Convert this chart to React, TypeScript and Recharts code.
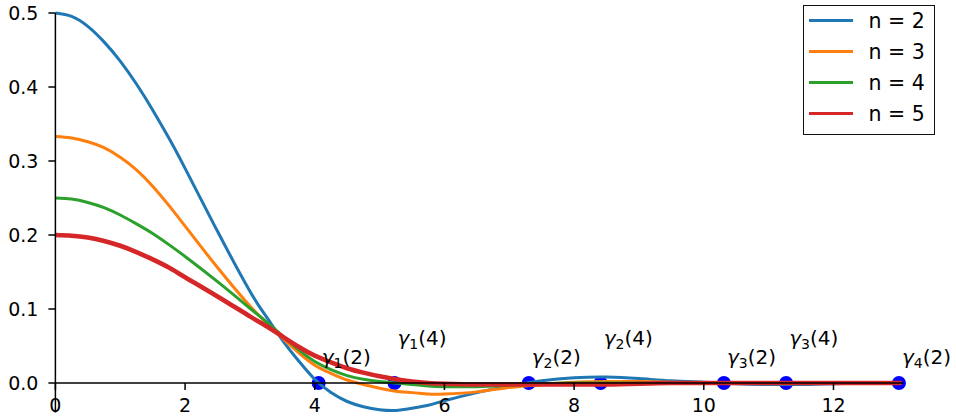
import { ComposedChart, Line, Scatter, XAxis, YAxis, ReferenceLine, Legend } from 'recharts';

// sample positions along x, shared by all four curves
const xGrid = [
  0, 0.25, 0.5, 0.75, 1, 1.25, 1.5, 1.75, 2, 2.5, 3, 3.25, 3.5, 3.75, 4, 4.25, 4.5, 4.75, 5,
  5.25, 5.5, 5.75, 6, 6.5, 7, 7.5, 8, 8.5, 9, 9.5, 10, 10.5, 11, 11.5, 12, 12.5, 13.05,
];

// values
const curveN2 = [
  0.5, 0.4955, 0.482, 0.461, 0.435, 0.404, 0.369, 0.331, 0.29, 0.205, 0.124, 0.09, 0.058, 0.03,
  0.005, -0.013, -0.025, -0.032, -0.036, -0.037, -0.034, -0.03, -0.024, -0.013, -0.004, 0.003,
  0.007, 0.008, 0.006, 0.003, 0.001, -0.001, -0.002, -0.002, -0.001, 0, 0,
];
const curveN3 = [
  0.333, 0.331, 0.326, 0.318, 0.305, 0.288, 0.266, 0.24, 0.212, 0.156, 0.104, 0.082, 0.061, 0.041,
  0.024, 0.013, 0.004, -0.002, -0.007, -0.011, -0.013, -0.015, -0.015, -0.012, -0.006, -0.002,
  0.001, 0.002, 0.002, 0.001, 0, 0, 0, 0, 0, 0, 0,
];
const curveN4 = [
  0.25, 0.2485, 0.244, 0.237, 0.227, 0.215, 0.202, 0.187, 0.171, 0.137, 0.101, 0.083, 0.064, 0.045,
  0.029, 0.018, 0.01, 0.005, 0.002, 0, -0.002, -0.004, -0.005, -0.005, -0.003, -0.001, 0, 0, 0, 0,
  0, 0, 0, 0, 0, 0, 0,
];
const curveN5 = [
  0.2, 0.199, 0.1965, 0.192, 0.1855, 0.177, 0.167, 0.156, 0.143, 0.117, 0.09, 0.077, 0.063, 0.049,
  0.037, 0.028, 0.02, 0.014, 0.009, 0.005, 0.002, 0, -0.001, -0.002, -0.002, -0.002, -0.002, -0.002,
  -0.001, 0, 0, 0, 0, 0, 0, 0, 0,
];

// marked zeros gamma_k(2) and gamma_k(4)
const rootsN2 = [4.06, 7.3, 10.31, 13.01];
const rootsN4 = [5.23, 8.41, 11.27];

const xTicks = [0, 2, 4, 6, 8, 10, 12];
const yTicks = [0, 0.1, 0.2, 0.3, 0.4, 0.5];

const series = [
  { key: 'n2', name: 'n = 2', color: '#1f77b4', width: 3 },
  { key: 'n3', name: 'n = 3', color: '#ff7f0e', width: 3 },
  { key: 'n4', name: 'n = 4', color: '#2ca02c', width: 3 },
  { key: 'n5', name: 'n = 5', color: '#d62728', width: 4.6 },
];

const W = 956;
const H = 420;
const TOP = 13;
const RIGHT = 52.5;
const Y_AXIS_W = 55.4;
const X_AXIS_H = 7.4;
const X_MAX = 13.08;
const Y_MIN = -0.04;
const Y_MAX = 0.5;
const plotH = H - TOP - X_AXIS_H;
// distance from the plot bottom up to y = 0, where the x axis sits
const zeroLift = (plotH * (0 - Y_MIN)) / (Y_MAX - Y_MIN);

const FONT = 'DejaVu Sans';

const tableData = xGrid.map((x, i) => ({
  x,
  n2: curveN2[i],
  n3: curveN3[i],
  n4: curveN4[i],
  n5: curveN5[i],
}));

const dotData = [...rootsN2, ...rootsN4].map((x) => ({ x, y: 0 }));
const labelData2 = rootsN2.map((x, i) => ({ x, y: 0.026, k: i + 1, n: 2 }));
const labelData4 = rootsN4.map((x, i) => ({ x, y: 0.052, k: i + 1, n: 4 }));

const XTick = (props: any) => {
  const { x, y, payload } = props;
  const y0 = y - zeroLift;
  return (
    <g>
      <line x1={x} x2={x} y1={y0} y2={y0 + 7} stroke="#000" strokeWidth={1.5} />
      <text x={x} y={y0 + 29} textAnchor="middle" fontSize={19} fill="#000" fontFamily={FONT}>
        {payload.value}
      </text>
    </g>
  );
};

const RootDot = (props: any) => <circle cx={props.cx} cy={props.cy} r={7} fill="#0000ff" />;

const RootLabel = (props: any) => {
  const { cx, cy, payload } = props;
  return (
    <text x={cx + 3} y={cy} fontSize={20} fill="#000" fontFamily={FONT}>
      <tspan fontStyle="italic">γ</tspan>
      <tspan fontSize={14} dy={4}>
        {payload.k}
      </tspan>
      <tspan dy={-4}>({payload.n})</tspan>
    </text>
  );
};

const LegendBox = () => (
  <div
    style={{
      width: 132,
      height: 130,
      boxSizing: 'border-box',
      border: '1.5px solid #111',
      background: '#fff',
      position: 'relative',
      fontFamily: FONT,
    }}
  >
    {series.map((s, i) => (
      <div
        key={s.key}
        style={{
          position: 'absolute',
          left: 4.5,
          top: 14.5 + 31 * i - 12,
          height: 24,
          display: 'flex',
          alignItems: 'center',
        }}
      >
        <div style={{ width: 44, height: 3, background: s.color }} />
        <span style={{ marginLeft: 16, fontSize: 20.5, color: '#000', whiteSpace: 'nowrap' }}>
          {s.name}
        </span>
      </div>
    ))}
  </div>
);

export default function App() {
  return (
    <div style={{ width: W, height: H, position: 'absolute', left: 0, top: 0 }}>
      <ComposedChart
        width={W}
        height={H}
        data={tableData}
        margin={{ top: TOP, right: RIGHT, bottom: 0, left: 0 }}
        style={{ fontFamily: FONT }}
      >
        <XAxis
          type="number"
          dataKey="x"
          domain={[0, X_MAX]}
          ticks={xTicks}
          height={X_AXIS_H}
          axisLine={false}
          tickLine={false}
          tickSize={0}
          tickMargin={0}
          tick={<XTick />}
          interval={0}
        />
        <YAxis
          type="number"
          domain={[Y_MIN, Y_MAX]}
          ticks={yTicks}
          width={Y_AXIS_W}
          axisLine={{ stroke: '#000', strokeWidth: 1.5 }}
          tickLine={{ stroke: '#000', strokeWidth: 1.5 }}
          tickSize={7}
          tickMargin={10}
          tick={{ fill: '#000', fontSize: 19, fontFamily: FONT }}
          tickFormatter={(v: number) => v.toFixed(1)}
          interval={0}
        />
        <Legend
          layout="vertical"
          align="center"
          verticalAlign="middle"
          content={<LegendBox />}
          wrapperStyle={{ left: 803, top: 5, width: 132, height: 130 }}
        />
        <Scatter
          data={dotData}
          dataKey="y"
          shape={<RootDot />}
          legendType="none"
          isAnimationActive={false}
          zIndex={100}
        />
        {series.map((s) => (
          <Line
            key={s.key}
            type="natural"
            dataKey={s.key}
            name={s.name}
            stroke={s.color}
            strokeWidth={s.width}
            dot={false}
            activeDot={false}
            isAnimationActive={false}
          />
        ))}
        <ReferenceLine y={0} stroke="#000" strokeWidth={1.5} zIndex={450} />
        <Scatter
          data={labelData2}
          dataKey="y"
          shape={<RootLabel />}
          legendType="none"
          isAnimationActive={false}
        />
        <Scatter
          data={labelData4}
          dataKey="y"
          shape={<RootLabel />}
          legendType="none"
          isAnimationActive={false}
        />
      </ComposedChart>
    </div>
  );
}
